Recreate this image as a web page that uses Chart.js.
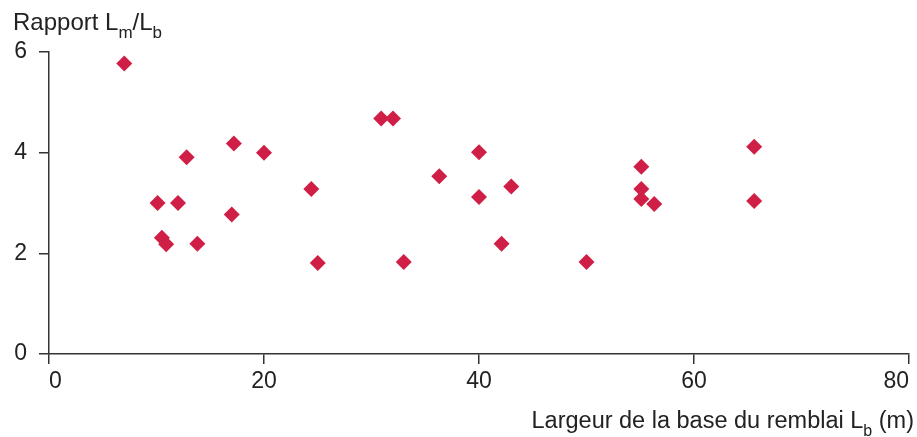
<!DOCTYPE html>
<html>
<head>
<meta charset="utf-8">
<script src="https://cdn.jsdelivr.net/npm/chart.js@4"></script>
<style>
  body { margin: 0; background: #fff; }
  #wrap { width: 917px; height: 437px; }
</style>
</head>
<body>
<div id="wrap"><canvas id="myChart" width="917" height="437"></canvas></div>
<script>
// largeur de la base du remblai Lb (m)
const baseWidth = [7.0, 10.1, 12.0, 12.8, 10.5, 10.9, 13.8, 17.0, 17.2, 20.0, 24.4, 25.0, 30.9, 32.0,
  33.0, 36.3, 40.0, 40.0, 43.0, 42.1, 50.0, 55.1, 55.1, 55.1, 56.3, 65.6, 65.6];
// rapport Lm/Lb
const ratio = [5.77, 3.0, 3.0, 3.91, 2.31, 2.18, 2.19, 2.77, 4.18, 4.0, 3.28, 1.81, 4.68, 4.68,
  1.83, 3.53, 4.01, 3.12, 3.33, 2.19, 1.83, 3.72, 3.28, 3.08, 2.98, 4.12, 3.04];
const xTicks = [0, 20, 40, 60, 80];
const yTicks = [0, 2, 4, 6];

const FONT = "'Liberation Sans', Arial, sans-serif";
const AXIS = "#333333";

// draws "big", "sub", "big", "sub" ... pieces with subscripts
function drawParts(ctx, parts, x, y, size, align) {
  const big = size + "px " + FONT, small = Math.round(size * 0.7) + "px " + FONT;
  let total = 0;
  parts.forEach((p, i) => {
    ctx.font = i % 2 ? small : big;
    total += ctx.measureText(p).width;
  });
  let cx = align === "right" ? x - total : x;
  ctx.textAlign = "left";
  ctx.textBaseline = "alphabetic";
  parts.forEach((p, i) => {
    ctx.font = i % 2 ? small : big;
    ctx.fillText(p, cx, i % 2 ? y + 8 : y);
    cx += ctx.measureText(p).width;
  });
}

const labels = {
  id: "labels",
  afterDraw(chart) {
    const ctx = chart.ctx;
    ctx.save();
    ctx.fillStyle = "#222";
    drawParts(ctx, ["Rapport L", "m", "/L", "b"], 13, 29.5, 24, "left");
    drawParts(ctx, ["Largeur de la base du remblai L", "b", " (m)"], 914, 428, 23.5, "right");
    ctx.restore();
  }
};

const ctx = document.getElementById("myChart").getContext("2d");
const chart = new Chart(ctx, {
  type: "scatter",
  data: {
    datasets: [
      {
        data: baseWidth.map((x, i) => ({ x: x, y: ratio[i] })),
        pointStyle: "rectRot",
        pointRadius: 8,
        pointBorderWidth: 0,
        backgroundColor: "#d01f47",
        borderColor: "#d01f47",
      },
    ],
  },
  options: {
    responsive: false,
    animation: false,
    layout: { padding: { top: 52, right: 7, left: 0, bottom: 0 } },
    plugins: { legend: { display: false }, tooltip: { enabled: false } },
    scales: {
      x: {
        type: "linear",
        min: 0,
        max: 80,
        afterBuildTicks: (s) => { s.ticks = xTicks.map((v) => ({ value: v })); },
        afterFit: (s) => { s.height = 83; s.paddingLeft = 0; s.paddingRight = 0; },
        grid: { drawOnChartArea: false, tickLength: 10, color: AXIS, lineWidth: 1.5 },
        border: { color: AXIS, width: 1.5 },
        ticks: { color: "#222", padding: 4, align: "inner", maxRotation: 0, font: { family: FONT, size: 23 } },
      },
      y: {
        min: 0,
        max: 6,
        afterBuildTicks: (s) => { s.ticks = yTicks.map((v) => ({ value: v })); },
        afterFit: (s) => { s.width = 49; s.paddingTop = 0; s.paddingBottom = 0; },
        grid: { drawOnChartArea: false, tickLength: 10, color: AXIS, lineWidth: 1.5 },
        border: { color: AXIS, width: 1.5 },
        ticks: { color: "#222", padding: 12, font: { family: FONT, size: 23 } },
      },
    },
  },
  plugins: [labels],
});
</script>
</body>
</html>
